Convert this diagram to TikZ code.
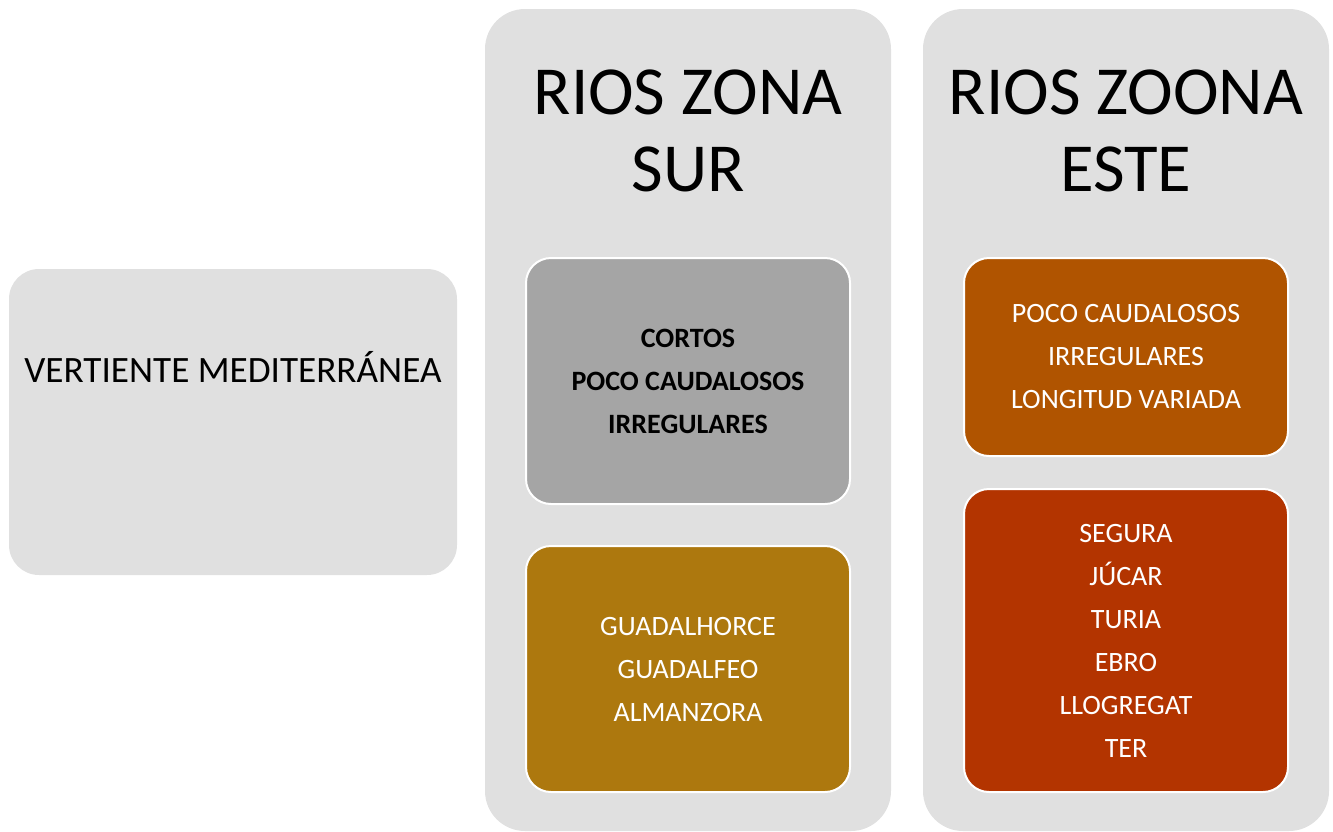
\documentclass[tikz,border=0pt]{standalone}
\usepackage{fontspec}
\setmainfont{Carlito}
\usetikzlibrary{positioning}
\definecolor{paneGrey}{HTML}{E0E0E0}
\definecolor{boxGrey}{HTML}{A5A5A5}
\definecolor{boxGold}{HTML}{AD780E}
\definecolor{boxOrange}{HTML}{B05400}
\definecolor{boxRed}{HTML}{B33400}
\tikzstyle{pane} = [fill=paneGrey, inner sep=0pt, rounded corners=20pt, minimum width=203pt, minimum height=411pt]
\tikzstyle{heading} = [align=center, font=\fontsize{34.4}{38.5}\selectfont]
\tikzstyle{entry} = [draw=white, line width=1pt, inner sep=0pt, rounded corners=12.5pt, minimum width=162pt,
align=center, text=white, font=\fontsize{14}{21.5}\selectfont]

\begin{document}
\begin{tikzpicture}[x=0.5pt, y=-0.5pt]
\useasboundingbox (0,0) rectangle (1333,831);

\node (vertiente) [pane, minimum width=224pt, minimum height=153pt, rounded corners=15pt] at (233,422) {};
\node (vertientetext) at (vertiente) [yshift=+27.5pt] [font=\fontsize{18.6}{22}\selectfont] {VERTIENTE MEDITERRÁNEA};

\node (zonasur) [pane] at (688,420) {};
\node (zonasurtitle) at (zonasur) [yshift=+144.5pt] [heading] {RIOS ZONA\\SUR};
\node (surrasgos) at (zonasur) [yshift=+19.5pt] [entry, fill=boxGrey, text=black, minimum height=123pt,
font=\fontsize{14}{21.5}\selectfont\bfseries] {CORTOS\\POCO CAUDALOSOS\\IRREGULARES};
\node (surrios) at (zonasur) [yshift=-124.5pt] [entry, fill=boxGold, minimum height=123pt] {GUADALHORCE\\GUADALFEO\\ALMANZORA};

\node (zonaeste) [pane] at (1126,420) {};
\node (zonaestetitle) at (zonaeste) [yshift=+144.5pt] [heading] {RIOS ZOONA\\ESTE};
\node (esterasgos) at (zonaeste) [yshift=+31.5pt] [entry, fill=boxOrange, minimum height=99pt] {POCO CAUDALOSOS\\IRREGULARES\\LONGITUD VARIADA};
\node (esterios) at (zonaeste) [yshift=-110.25pt] [entry, fill=boxRed, minimum height=151.5pt] {SEGURA\\JÚCAR\\TURIA\\EBRO\\LLOGREGAT\\TER};
\end{tikzpicture}
\end{document}
